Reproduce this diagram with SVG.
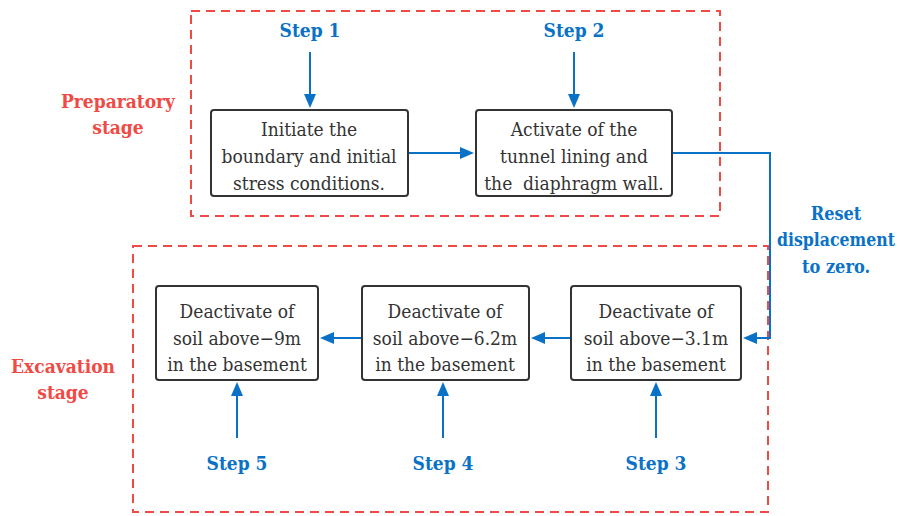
<svg xmlns="http://www.w3.org/2000/svg" width="900" height="516" viewBox="0 0 900 516">
<style>
text{font-family:'DejaVu Serif Condensed','DejaVu Serif',serif;font-stretch:condensed}
.stage{fill:none;stroke:#F04A45;stroke-width:2;stroke-dasharray:9,6}
.box{fill:#fff;stroke:#333;stroke-width:2}
.bt{font-size:19px;fill:#333;text-anchor:middle}
.step{font-size:19px;font-weight:bold;fill:#0A72C6;text-anchor:middle}
.reset{font-size:18px;font-weight:bold;fill:#0A72C6;text-anchor:middle}
.lab{font-size:19px;font-weight:bold;fill:#F04A45;text-anchor:middle}
.con{fill:none;stroke:#0A72C6;stroke-width:2}
.ah{fill:#0A72C6}
</style>
<rect width="900" height="516" fill="#fff"/>
<rect class="stage" x="191" y="11" width="529" height="205"/>
<rect class="stage" x="133" y="246" width="635" height="266"/>
<text class="lab" x="118" y="108">Preparatory</text>
<text class="lab" x="118" y="134">stage</text>
<text class="lab" x="63" y="373">Excavation</text>
<text class="lab" x="63" y="399">stage</text>
<g id="connectors">
<path class="con" d="M310,52 V100"/>
<path class="ah" d="M304,94 L310,108 L316,94 z"/>
<path class="con" d="M574,52 V100"/>
<path class="ah" d="M568,94 L574,108 L580,94 z"/>
<path class="con" d="M408,153 H466"/>
<path class="ah" d="M460,147 L474,153 L460,159 z"/>
<path class="con" d="M672,153 H770 V338 H750"/>
<path class="ah" d="M757,332 L743,338 L757,344 z"/>
<path class="con" d="M571,338 H539"/>
<path class="ah" d="M545,332 L531,338 L545,344 z"/>
<path class="con" d="M362,338 H328"/>
<path class="ah" d="M334,332 L320,338 L334,344 z"/>
<path class="con" d="M237,438 V390"/>
<path class="ah" d="M231,396 L237,382 L243,396 z"/>
<path class="con" d="M443,438 V390"/>
<path class="ah" d="M437,396 L443,382 L449,396 z"/>
<path class="con" d="M656,438 V390"/>
<path class="ah" d="M650,396 L656,382 L662,396 z"/>
</g>
<text class="reset" x="836" y="220">Reset</text>
<text class="reset" x="836" y="246" textLength="118" lengthAdjust="spacingAndGlyphs">displacement</text>
<text class="reset" x="836" y="273">to zero.</text>
<text class="step" x="310" y="37">Step 1</text>
<text class="step" x="574" y="37">Step 2</text>
<text class="step" x="237" y="470">Step 5</text>
<text class="step" x="443" y="470">Step 4</text>
<text class="step" x="656" y="470">Step 3</text>
<g id="n1"><rect class="box" x="211" y="110" width="197" height="86" rx="3"/>
<text class="bt" x="309" y="136">Initiate the</text><text class="bt" x="309" y="163">boundary and initial</text><text class="bt" x="309" y="190">stress conditions.</text></g>
<g id="n2"><rect class="box" x="476" y="110" width="196" height="86" rx="3"/>
<text class="bt" x="574" y="136">Activate of the</text><text class="bt" x="574" y="163">tunnel lining and</text><text class="bt" x="574" y="190" xml:space="preserve">the  diaphragm wall.</text></g>
<g id="n3"><rect class="box" x="571" y="286" width="170" height="94" rx="3"/>
<text class="bt" x="656" y="318">Deactivate of</text><text class="bt" x="656" y="345">soil above−3.1m</text><text class="bt" x="656" y="371">in the basement</text></g>
<g id="n4"><rect class="box" x="362" y="286" width="167" height="94" rx="3"/>
<text class="bt" x="445" y="318">Deactivate of</text><text class="bt" x="445" y="345">soil above−6.2m</text><text class="bt" x="445" y="371">in the basement</text></g>
<g id="n5"><rect class="box" x="156" y="286" width="162" height="94" rx="3"/>
<text class="bt" x="237" y="318">Deactivate of</text><text class="bt" x="237" y="345">soil above−9m</text><text class="bt" x="237" y="371">in the basement</text></g>
</svg>
